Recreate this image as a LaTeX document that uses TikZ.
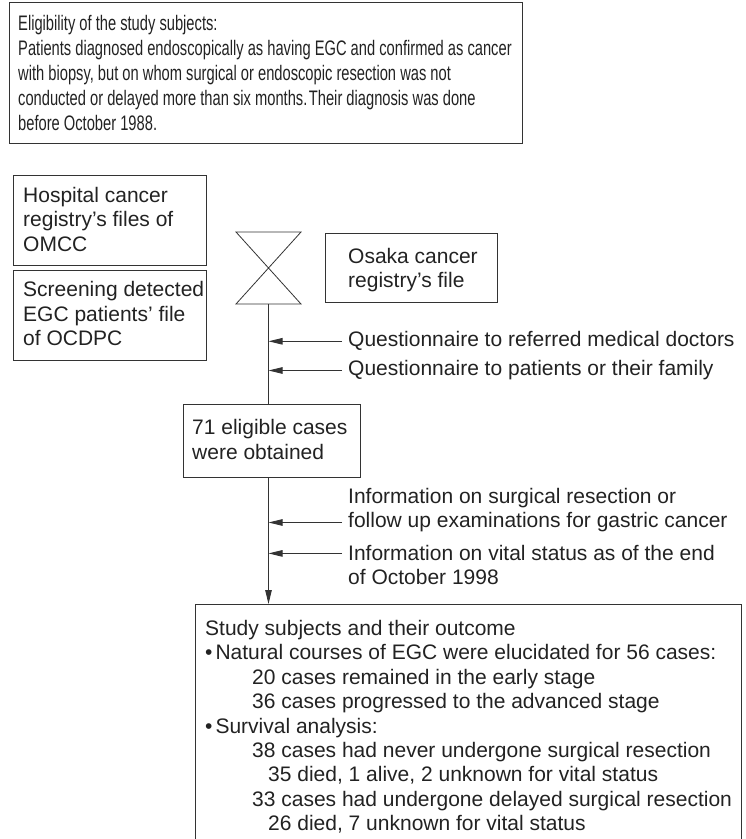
\documentclass[tikz,border=0pt]{standalone}
\usepackage{fontspec}
\setmainfont{Liberation Sans}
\newfontfamily\narrowfont[FakeStretch=0.70]{Liberation Sans}
\usetikzlibrary{arrows.meta}
\definecolor{ink}{HTML}{222222}
\definecolor{rule}{HTML}{333333}
\begin{document}
\begin{tikzpicture}[x=1pt,y=-1pt,
  box/.style={draw=rule, line width=1pt, inner sep=0pt, anchor=north west},
  txt/.style={inner sep=0pt, anchor=north west, align=left, text=ink,
              font=\fontsize{21}{24.4}\selectfont},
  ntxt/.style={txt, font=\narrowfont\fontsize{21}{24.8}\selectfont},
  ln/.style={draw=rule, line width=0.9pt},
  arr/.style={ln, -{Triangle[length=14pt,width=6.5pt]}}]
\useasboundingbox (0,0) rectangle (746,839);

% eligibility box
\node[box, minimum width=513pt, minimum height=141pt] (elig) at (9,2) {};
\node[ntxt] (eligt) at (18,15.5) {Eligibility of the study subjects:\\
Patients diagnosed endoscopically as having EGC and confirmed as cancer\\
with biopsy, but on whom surgical or endoscopic resection was not\\
conducted or delayed more than six months.\hspace{1.5pt}Their diagnosis was done\\
before October 1988.};

% source boxes
\node[box, minimum width=193pt, minimum height=90pt] (hosp) at (13,175) {};
\node[txt] (hospt) at (23,187) {Hospital cancer\\registry's files of\\OMCC};
\node[box, minimum width=193pt, minimum height=90pt] (scr) at (13,270) {};
\node[txt] (scrt) at (23,281.5) {Screening detected\\EGC patients' file\\of OCDPC};

% hourglass
\coordinate (hgtl) at (236,232);
\coordinate (hgtr) at (301,232);
\coordinate (hgbl) at (236,304);
\coordinate (hgbr) at (301,304);
\coordinate (hgb) at (268.5,304);
\draw[ln, line width=0.8pt] (hgtl) -- (hgtr) -- (hgbl) -- (hgbr) -- cycle;

% Osaka box
\node[box, minimum width=172pt, minimum height=69pt] (osaka) at (325,233) {};
\node[txt] (osakat) at (348,248) {Osaka cancer\\registry's file};

% questionnaires
\node[txt] (q1) at (348,331.5) {Questionnaire to referred medical doctors};
\node[txt] (q2) at (348,360.5) {Questionnaire to patients or their family};

% 71 eligible cases
\node[box, minimum width=177pt, minimum height=73pt] (cases) at (183,404) {};
\node[txt] (casest) at (192,419.5) {71 eligible cases\\were obtained};

% information
\node[txt] (i1a) at (348,488.5) {Information on surgical resection or};
\node[txt] (i1b) at (348,512.5) {follow up examinations for gastric cancer};
\node[txt] (i2a) at (348,545.5) {Information on vital status as of the end};
\node[txt] (i2b) at (348,569.5) {of October 1998};

% study subjects box (cut at the bottom)
\coordinate (sbl) at (195,839);
\coordinate (stl) at (195,604);
\coordinate (str) at (741,604);
\coordinate (sbr) at (741,839);
\coordinate (stop) at (268.5,604);
\draw[ln, line width=1pt] (sbl) -- (stl) -- (str) -- (sbr);
\node[txt] (studyt) at (205,620) {Study subjects and their outcome\\
\textbullet\hspace{3pt}Natural courses of EGC were elucidated for 56 cases:\\
\hspace*{47pt}20 cases remained in the early stage\\
\hspace*{47pt}36 cases progressed to the advanced stage\\
\textbullet\hspace{3pt}Survival analysis:\\
\hspace*{47pt}38 cases had never undergone surgical resection\\
\hspace*{63pt}35 died, 1 alive, 2 unknown for vital status\\
\hspace*{47pt}33 cases had undergone delayed surgical resection\\
\hspace*{63pt}26 died, 7 unknown for vital status};

% trunk
\draw[ln] (hgb) -- (cases.north -| hgb);
\draw[arr] (cases.south -| hgb) -- (stop);
\draw[arr] ([xshift=-6pt]q1.west) -- (q1.west -| hgb);
\draw[arr] ([xshift=-6pt]q2.west) -- (q2.west -| hgb);
\draw[arr] ([xshift=-6pt]i1b.west) -- (i1b.west -| hgb);
\draw[arr] ([xshift=-6pt]i2a.west) -- (i2a.west -| hgb);
\end{tikzpicture}
\end{document}
